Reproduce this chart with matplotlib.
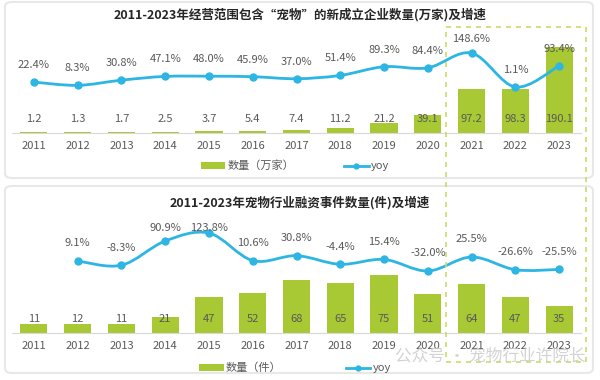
import numpy as np
import matplotlib
matplotlib.use("Agg")
import matplotlib.pyplot as plt
from matplotlib.path import Path
from matplotlib.patches import PathPatch, FancyBboxPatch, Rectangle

plt.rcParams['font.family'] = ['Noto Sans CJK SC', 'DejaVu Sans']

years = ['2011', '2012', '2013', '2014', '2015', '2016', '2017',
         '2018', '2019', '2020', '2021', '2022', '2023']

# top chart: new companies (10k) and yoy %
firms = [1.2, 1.3, 1.7, 2.5, 3.7, 5.4, 7.4, 11.2, 21.2, 39.1, 97.2, 98.3, 190.1]
firms_yoy = [22.4, 8.3, 30.8, 47.1, 48.0, 45.9, 37.0, 51.4, 89.3, 84.4, 148.6, 1.1, 93.4]

# bottom chart: financing events and yoy % (no yoy for 2011)
deals = [11, 12, 11, 21, 47, 52, 68, 65, 75, 51, 64, 47, 35]
deals_yoy = [None, 9.1, -8.3, 90.9, 123.8, 10.6, 30.8, -4.4, 15.4, -32.0, 25.5, -26.6, -25.5]

BAR = '#a9c934'
LINE = '#2db5e3'
TXT = '#595959'
W, H = 600, 380


def smooth_path(xs, ys):
    # excel-like smoothed line through the points (cubic bezier)
    pts = np.column_stack([xs, ys])
    verts = [pts[0]]
    codes = [Path.MOVETO]
    n = len(pts)
    for i in range(n - 1):
        p0 = pts[max(i - 1, 0)]
        p1 = pts[i]
        p2 = pts[i + 1]
        p3 = pts[min(i + 2, n - 1)]
        verts += [p1 + (p2 - p0) / 6, p2 - (p3 - p1) / 6, p2]
        codes += [Path.CURVE4] * 3
    return Path(verts, codes)


def panel(fig, rect, vals, yoy, ymax, ylo, yhi, lab_off, lab_cap, title, ty, bar_name, legy, colsp):
    ax = fig.add_axes(rect, zorder=2)
    ax.patch.set_alpha(0)
    x = np.arange(len(years))
    bars = ax.bar(x, vals, width=0.62, color=BAR, zorder=2)
    ax.set_xlim(-0.5, len(years) - 0.5)
    ax.set_ylim(0, ymax)
    ax.set_xticks(x)
    ax.set_xticklabels(years, fontsize=8, color=TXT)
    ax.tick_params(axis='x', length=0, pad=6)
    ax.set_yticks([])
    for s in ['top', 'left', 'right']:
        ax.spines[s].set_visible(False)
    ax.spines['bottom'].set_color('#d9d9d9')
    for i, v in enumerate(vals):
        ax.annotate(f'{v:g}', (i, 0), xytext=(0, 10), textcoords='offset points',
                    ha='center', va='center', fontsize=8, color=TXT, zorder=5)

    ax2 = ax.twinx()
    ax2.set_ylim(ylo, yhi)
    ax2.set_yticks([])
    for s in ax2.spines.values():
        s.set_visible(False)
    xs = [i for i, v in enumerate(yoy) if v is not None]
    ys = [v for v in yoy if v is not None]
    ax2.add_patch(PathPatch(smooth_path(xs, ys), fill=False, edgecolor=LINE, lw=2, zorder=3))
    ax2.plot(xs, ys, 'o', color=LINE, markersize=5, zorder=4)
    for i, v in zip(xs, ys):
        ax2.text(i, min(v + lab_off, lab_cap), f'{v:.1f}%', ha='center', va='center',
                 fontsize=8, color=TXT, zorder=5)

    fig.text(0.5, ty, title, ha='center', va='center', fontsize=9,
             fontweight='bold', color='#262626')
    lh, = ax.plot([], [], '-o', color=LINE, lw=2, markersize=3.5)
    ax.legend([bars, lh], [bar_name, 'yoy'], ncol=2, frameon=False, fontsize=8,
              loc='center', bbox_to_anchor=(295 / W, legy), bbox_transform=fig.transFigure,
              handlelength=2.2, handleheight=0.6, columnspacing=colsp, handletextpad=0.2,
              labelcolor=TXT)
    return ax


fig = plt.figure(figsize=(6, 3.8), dpi=100)

# cards
for y0, y1 in [(2, 178), (186, 373)]:
    fig.patches.append(FancyBboxPatch((5 / W, 1 - y1 / H), 588 / W, (y1 - y0) / H,
                                      boxstyle='round,pad=0,rounding_size=0.012',
                                      transform=fig.transFigure, facecolor='white',
                                      edgecolor='#e8e8e8', lw=1.5, zorder=-1))

panel(fig, [12 / W, 1 - 133 / H, 569 / W, 103 / H], firms, firms_yoy,
      103 / 0.45, -198.9, 248.9, 74, 210,
      '2011-2023年经营范围包含“宠物”的新成立企业数量(万家)及增速', 1 - 15 / H,
      '数量（万家）', 1 - 166 / H, 4.5)

panel(fig, [12 / W, 47 / H, 569 / W, 118 / H], deals, deals_yoy,
      118 / 0.773, -286, 197.6, 72, 144,
      '2011-2023年宠物行业融资事件数量(件)及增速', 1 - 203 / H,
      '数量（件）', 1 - 368 / H, 5.8)

# dashed highlight box over 2021-2023
fig.patches.append(Rectangle((446 / W, 1 - 362 / H), 140 / W, 335 / H,
                             transform=fig.transFigure, fill=False, edgecolor='#c9dc6a',
                             lw=1.2, ls=(0, (3, 3)), zorder=10))

fig.text(395 / W, 1 - 356 / H, '公众号 · 宠物行业许院长', fontsize=12, color='#c8c8c8',
         alpha=0.8, va='center', ha='left', zorder=11)

fig.savefig('out.png', dpi=100)
